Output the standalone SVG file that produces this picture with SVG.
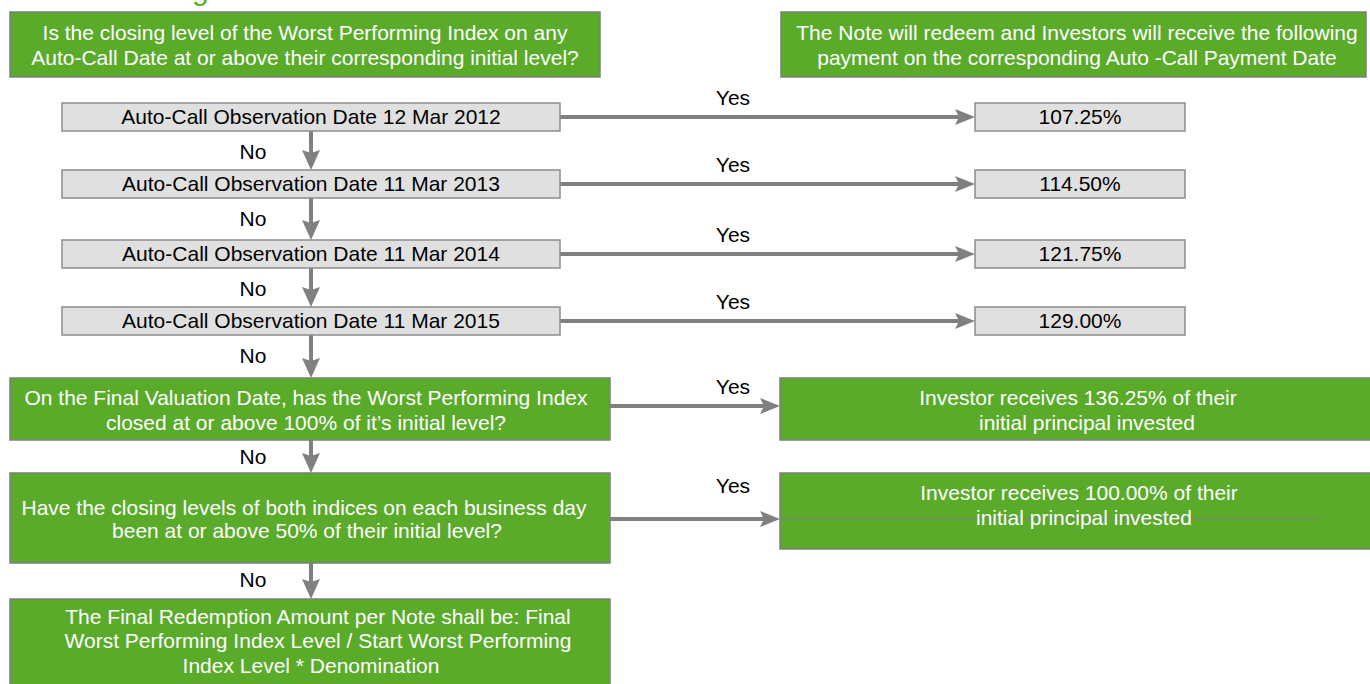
<svg xmlns="http://www.w3.org/2000/svg" width="1370" height="684" viewBox="0 0 1370 684">
<defs>
<style>
.g{fill:#5aab2a;stroke:#7f7f7f;stroke-width:1.5}
.q{fill:#e0e0e0;stroke:#8c8c8c;stroke-width:1.5}
.tw{font-family:"Liberation Sans",Arial,sans-serif;font-size:21px;fill:#ffffff;text-anchor:middle}
.tb{font-family:"Liberation Sans",Arial,sans-serif;font-size:21px;fill:#000000;text-anchor:middle}
.c{stroke:#808080;stroke-width:4;fill:none}
</style>
<marker id="ah" markerUnits="userSpaceOnUse" markerWidth="20" markerHeight="16" refX="10" refY="8" orient="auto">
<path d="M0,0 L20,8 L0,16 L4,8 z" fill="#808080"/>
</marker>
<marker id="av" markerUnits="userSpaceOnUse" markerWidth="20" markerHeight="18" refX="10" refY="9" orient="auto">
<path d="M0,0 L20,9 L0,18 L3,9 z" fill="#808080"/>
</marker>
</defs>
<rect width="1370" height="684" fill="#ffffff"/>
<text x="12" y="0" font-family="'Liberation Sans',Arial,sans-serif" font-size="30" fill="#5aab2a">Test Flow Diagram</text>

<g id="connectors">
<line class="c" x1="560" y1="117" x2="965" y2="117" marker-end="url(#ah)"/>
<line class="c" x1="560" y1="184" x2="965" y2="184" marker-end="url(#ah)"/>
<line class="c" x1="560" y1="254" x2="965" y2="254" marker-end="url(#ah)"/>
<line class="c" x1="560" y1="321" x2="965" y2="321" marker-end="url(#ah)"/>
<line class="c" x1="610" y1="406" x2="770" y2="406" marker-end="url(#ah)"/>
<line class="c" x1="610" y1="519" x2="770" y2="519" marker-end="url(#ah)"/>
<line class="c" x1="311" y1="131" x2="311" y2="160" marker-end="url(#av)"/>
<line class="c" x1="311" y1="198" x2="311" y2="230" marker-end="url(#av)"/>
<line class="c" x1="311" y1="268" x2="311" y2="297" marker-end="url(#av)"/>
<line class="c" x1="311" y1="335" x2="311" y2="368" marker-end="url(#av)"/>
<line class="c" x1="311" y1="440" x2="311" y2="463" marker-end="url(#av)"/>
<line class="c" x1="311" y1="563" x2="311" y2="589" marker-end="url(#av)"/>
<g class="tb">
<text x="733" y="105">Yes</text>
<text x="733" y="172">Yes</text>
<text x="733" y="242">Yes</text>
<text x="733" y="309">Yes</text>
<text x="733" y="394">Yes</text>
<text x="733" y="493">Yes</text>
<text x="253" y="159">No</text>
<text x="253" y="226">No</text>
<text x="253" y="296">No</text>
<text x="253" y="363">No</text>
<text x="253" y="464">No</text>
<text x="253" y="587">No</text>
</g>
</g>

<g id="q-header">
<rect class="g" x="10" y="12" width="590" height="65"/>
<text class="tw" x="305" y="40">Is the closing level of the Worst Performing Index on any</text>
<text class="tw" x="305" y="65">Auto-Call Date at or above their corresponding initial level?</text>
</g>
<g id="a-header">
<rect class="g" x="781" y="12" width="585" height="65"/>
<text class="tw" x="1077" y="40">The Note will redeem and Investors will receive the following</text>
<text class="tw" x="1077" y="65">payment on the corresponding Auto -Call Payment Date</text>
</g>

<g id="obs1"><rect class="q" x="62" y="103" width="498" height="28"/><text class="tb" x="311" y="124">Auto-Call Observation Date 12 Mar 2012</text></g>
<g id="obs2"><rect class="q" x="62" y="170" width="498" height="28"/><text class="tb" x="311" y="191">Auto-Call Observation Date 11 Mar 2013</text></g>
<g id="obs3"><rect class="q" x="62" y="240" width="498" height="28"/><text class="tb" x="311" y="261">Auto-Call Observation Date 11 Mar 2014</text></g>
<g id="obs4"><rect class="q" x="62" y="307" width="498" height="28"/><text class="tb" x="311" y="328">Auto-Call Observation Date 11 Mar 2015</text></g>

<g id="pay1"><rect class="q" x="975" y="103" width="210" height="28"/><text class="tb" x="1080" y="124">107.25%</text></g>
<g id="pay2"><rect class="q" x="975" y="170" width="210" height="28"/><text class="tb" x="1080" y="191">114.50%</text></g>
<g id="pay3"><rect class="q" x="975" y="240" width="210" height="28"/><text class="tb" x="1080" y="261">121.75%</text></g>
<g id="pay4"><rect class="q" x="975" y="307" width="210" height="28"/><text class="tb" x="1080" y="328">129.00%</text></g>

<g id="final-q">
<rect class="g" x="10" y="378" width="600" height="62"/>
<text class="tw" x="306" y="405">On the Final Valuation Date, has the Worst Performing Index</text>
<text class="tw" x="306" y="430">closed at or above 100% of it’s initial level?</text>
</g>
<g id="barrier-q">
<rect class="g" x="10" y="473" width="600" height="90"/>
<text class="tw" x="304" y="515">Have the closing levels of both indices on each business day</text>
<text class="tw" x="307" y="538">been at or above 50% of their initial level?</text>
</g>
<g id="final-amount">
<rect class="g" x="10" y="599" width="600" height="95"/>
<text class="tw" x="318" y="624">The Final Redemption Amount per Note shall be: Final</text>
<text class="tw" x="318" y="648">Worst Performing Index Level / Start Worst Performing</text>
<text class="tw" x="311" y="673">Index Level * Denomination</text>
</g>
<g id="res1">
<rect class="g" x="780" y="378" width="600" height="62"/>
<text class="tw" x="1078" y="405">Investor receives 136.25% of their</text>
<text class="tw" x="1087" y="430">initial principal invested</text>
</g>
<g id="res2">
<rect class="g" x="780" y="473" width="600" height="76"/>
<line x1="780" y1="519" x2="1322" y2="519" stroke="#7f7f7f" stroke-width="1"/>
<text class="tw" x="1079" y="500">Investor receives 100.00% of their</text>
<text class="tw" x="1084" y="525">initial principal invested</text>
</g>
</svg>
